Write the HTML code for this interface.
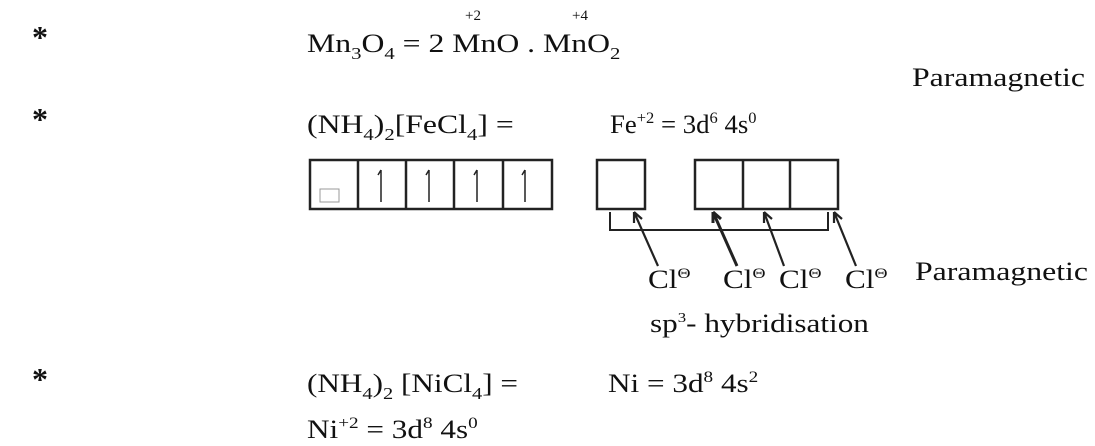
<!DOCTYPE html>
<html><head><meta charset="utf-8"><style>
body{margin:0;background:#fff;}
svg{display:block}
text{font-family:"Liberation Serif",serif;fill:#111;}
</style></head><body>
<svg width="1095" height="446" viewBox="0 0 1095 446" xmlns="http://www.w3.org/2000/svg">
<g font-size="26">
<text x="32" y="48" font-size="32" font-weight="bold">*</text>
<text x="32" y="130" font-size="32" font-weight="bold">*</text>
<text x="32" y="390" font-size="32" font-weight="bold">*</text>
<g transform="translate(307,52) scale(1.22,1)"><text x="0" y="0">Mn<tspan font-size="17" dy="7">3</tspan><tspan dy="-7">O</tspan><tspan font-size="17" dy="7">4</tspan><tspan dy="-7"> = 2 MnO . MnO</tspan><tspan font-size="17" dy="7">2</tspan></text></g>
<text x="465" y="20" font-size="15">+2</text>
<text x="572" y="20" font-size="15">+4</text>
<text x="912" y="86" textLength="173" lengthAdjust="spacingAndGlyphs">Paramagnetic</text>
<g transform="translate(307,133) scale(1.22,1)"><text x="0" y="0">(NH<tspan font-size="17" dy="7">4</tspan><tspan dy="-7">)</tspan><tspan font-size="17" dy="7">2</tspan><tspan dy="-7">[FeCl</tspan><tspan font-size="17" dy="7">4</tspan><tspan dy="-7">]   =</tspan></text></g>
<g transform="translate(610,133) scale(1.03,1)"><text x="0" y="0">Fe<tspan font-size="16" dy="-10">+2</tspan><tspan dy="10"> = 3d</tspan><tspan font-size="16" dy="-10">6</tspan><tspan dy="10">  4s</tspan><tspan font-size="16" dy="-10">0</tspan></text></g>
<g transform="translate(648,288) scale(1.2,1)"><text>Cl<tspan font-size="15" dy="-10">Θ</tspan></text></g>
<g transform="translate(723,288) scale(1.2,1)"><text>Cl<tspan font-size="15" dy="-10">Θ</tspan></text></g>
<g transform="translate(779,288) scale(1.2,1)"><text>Cl<tspan font-size="15" dy="-10">Θ</tspan></text></g>
<g transform="translate(845,288) scale(1.2,1)"><text>Cl<tspan font-size="15" dy="-10">Θ</tspan></text></g>
<text x="915" y="280" textLength="173" lengthAdjust="spacingAndGlyphs">Paramagnetic</text>
<g transform="translate(650,332) scale(1.2,1)"><text>sp<tspan font-size="14" dy="-10">3</tspan><tspan dy="10">- hybridisation</tspan></text></g>
<g transform="translate(307,392) scale(1.2,1)"><text>(NH<tspan font-size="17" dy="7">4</tspan><tspan dy="-7">)</tspan><tspan font-size="17" dy="7">2</tspan><tspan dy="-7"> [NiCl</tspan><tspan font-size="17" dy="7">4</tspan><tspan dy="-7">] =</tspan></text></g>
<g transform="translate(608,392) scale(1.2,1)"><text>Ni  =  3d<tspan font-size="16" dy="-10">8</tspan><tspan dy="10">  4s</tspan><tspan font-size="16" dy="-10">2</tspan></text></g>
<g transform="translate(307,438) scale(1.2,1)"><text>Ni<tspan font-size="16" dy="-10">+2</tspan><tspan dy="10"> = 3d</tspan><tspan font-size="16" dy="-10">8</tspan><tspan dy="10">  4s</tspan><tspan font-size="16" dy="-10">0</tspan></text></g>
</g>
<g fill="none" stroke="#222" stroke-width="2.5">
<rect x="310" y="160" width="242" height="49"/>
<line x1="358" y1="160" x2="358" y2="209"/><line x1="406" y1="160" x2="406" y2="209"/>
<line x1="454" y1="160" x2="454" y2="209"/><line x1="503" y1="160" x2="503" y2="209"/>
<rect x="597" y="160" width="48" height="49"/>
<rect x="695" y="160" width="143" height="49"/>
<line x1="743" y1="160" x2="743" y2="209"/><line x1="790" y1="160" x2="790" y2="209"/>
</g>
<rect x="320" y="189" width="19" height="13" fill="none" stroke="#999" stroke-width="1"/>
<g stroke="#222" stroke-width="1.5" fill="none">
<path d="M381 170 l-3 5 M381 170 v32"/><path d="M429 170 l-3 5 M429 170 v32"/>
<path d="M477 170 l-3 5 M477 170 v32"/><path d="M525 170 l-3 5 M525 170 v32"/>
<path d="M610 212 v18 h218 v-18" stroke-width="2"/>
</g>
<g stroke="#222" stroke-width="2.2" fill="none">
<path d="M634 212 L658 266 M634 212 l0 11 M634 212 l8 7"/>
<path d="M713 212 L737 266 M713 212 l0 11 M713 212 l8 7" stroke-width="3"/>
<path d="M764 212 L784 266 M764 212 l0 11 M764 212 l8 7"/>
<path d="M834 212 L856 266 M834 212 l0 11 M834 212 l8 7"/>
</g>
</svg>
</body></html>
